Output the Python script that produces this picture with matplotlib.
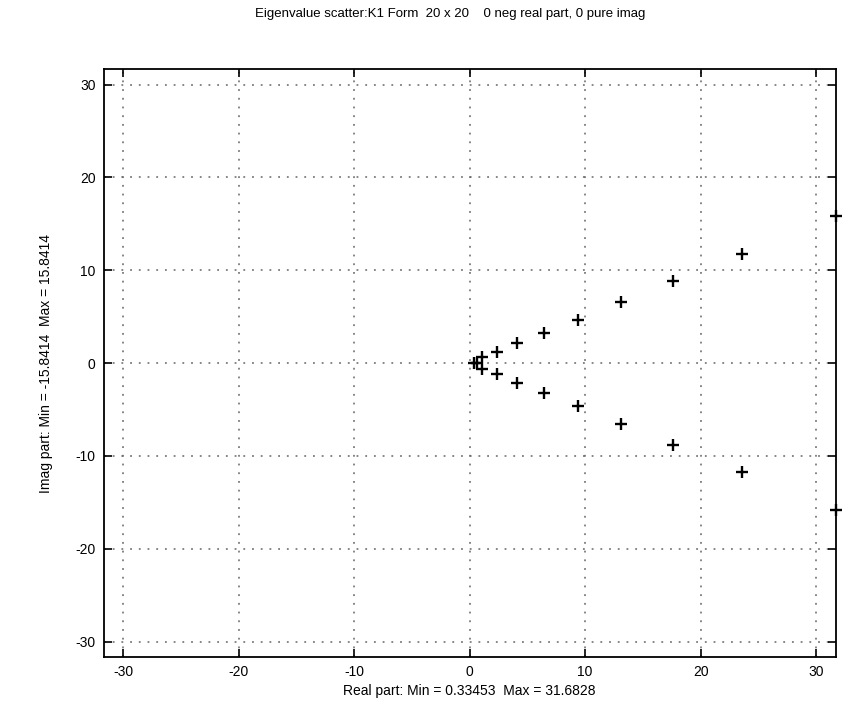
import numpy as np
import matplotlib
matplotlib.use("Agg")
import matplotlib.pyplot as plt

# eigenvalues (conjugate pairs + two real ones)
pair_real = [1.10, 2.37, 4.13, 6.45, 9.39, 13.07, 17.60, 23.56, 31.6828]
pair_imag = [0.61, 1.20, 2.12, 3.20, 4.67, 6.56, 8.85, 11.73, 15.8414]
lone_real = [0.33453, 0.62]

title_txt = "Eigenvalue scatter:K1 Form  20 x 20    0 neg real part, 0 pure imag"
xlabel_txt = "Real part: Min = 0.33453  Max = 31.6828"
ylabel_txt = "Imag part: Min = -15.8414  Max = 15.8414"
ticks = [-30, -20, -10, 0, 10, 20, 30]
lim = 31.6828

plt.rcParams['font.family'] = ['Liberation Sans', 'DejaVu Sans']
plt.rcParams['axes.unicode_minus'] = False

re = np.array(lone_real + pair_real + pair_real)
im = np.array([0.0] * len(lone_real) + pair_imag + [-v for v in pair_imag])

fig = plt.figure(figsize=(8.65, 7.19), dpi=100)
ax = fig.add_axes([0.120, 0.086, 0.846, 0.818])

ax.plot(re, im, '+', color='black', markersize=8.5, markeredgewidth=1.7,
        clip_on=False, zorder=3)

ax.set_xlim(-lim, lim)
ax.set_ylim(-lim, lim)
ax.set_xticks(ticks)
ax.set_yticks(ticks)
ax.grid(True, linestyle=(0, (1.2, 4.5)), color='#666666', linewidth=1.1)
ax.tick_params(direction='in', length=6, width=1.2, top=True, right=True,
               labelsize=10, pad=6)
for s in ax.spines.values():
    s.set_linewidth(1.3)

# title sits well above the box, near the top edge of the page
fig.text(0.520, 1 - 14 / 719, title_txt, ha='center', va='center', fontsize=9.5)
ax.set_xlabel(xlabel_txt, fontsize=10, labelpad=3)
ax.set_ylabel(ylabel_txt, fontsize=10, labelpad=16)

fig.savefig("out.png", dpi=100)
